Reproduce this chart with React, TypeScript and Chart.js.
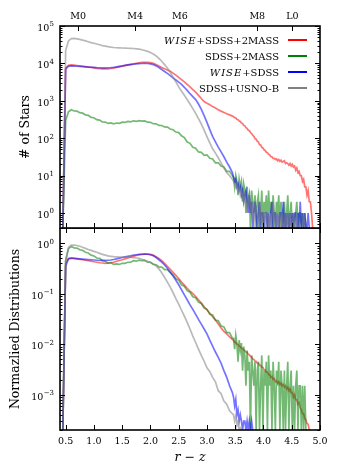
import React, { useEffect, useRef } from 'react';
import { Chart, registerables } from 'chart.js';

Chart.register(...registerables);

const FONT = "'DejaVu Serif', serif";

// r - z bin centres
const RZ_MAIN = [
  0.45, 0.5, 0.55, 0.6, 0.65, 0.7, 0.75, 0.8, 0.85, 0.9,
  0.95, 1.0, 1.05, 1.1, 1.15, 1.2, 1.25, 1.3, 1.35, 1.4,
  1.45, 1.5, 1.55, 1.6, 1.65, 1.7, 1.75, 1.8, 1.85, 1.9,
  1.95, 2.0, 2.05, 2.1, 2.15, 2.2, 2.25, 2.3, 2.35, 2.4,
  2.45, 2.5, 2.55, 2.6, 2.65, 2.7, 2.75, 2.8, 2.85, 2.9,
  2.95, 3.0, 3.05, 3.1, 3.15, 3.2, 3.25, 3.3, 3.35, 3.4,
  3.45,
];
const RZ_TAIL = [
  3.47, 3.49, 3.51, 3.53, 3.55, 3.57, 3.59, 3.61, 3.63, 3.65,
  3.67, 3.69, 3.71, 3.73, 3.75, 3.77, 3.79, 3.81, 3.83, 3.85,
  3.87, 3.89, 3.91, 3.93, 3.95, 3.97, 3.99, 4.01, 4.03, 4.05,
  4.07, 4.09, 4.11, 4.13, 4.15, 4.17, 4.19, 4.21, 4.23, 4.25,
  4.27, 4.29, 4.31, 4.33, 4.35, 4.37, 4.39, 4.41, 4.43, 4.45,
  4.47, 4.49, 4.51, 4.53, 4.55, 4.57, 4.59, 4.61, 4.63, 4.65,
  4.67, 4.69, 4.71, 4.73, 4.75, 4.77, 4.79, 4.81, 4.83, 4.85,
  4.87, 4.89,
];

const X_TICKS = [0.5, 1.0, 1.5, 2.0, 2.5, 3.0, 3.5, 4.0, 4.5, 5.0];
const SPECTRAL_TYPES = ['M0', 'M4', 'M6', 'M8', 'L0'];
const SPECTRAL_RZ = [0.72, 1.73, 2.52, 3.89, 4.51];
const TOP_DECADES = [0, 1, 2, 3, 4, 5];
const BOTTOM_DECADES = [-3, -2, -1, 0];

const SERIES = ['WISE+SDSS+2MASS', 'SDSS+2MASS', 'WISE+SDSS', 'SDSS+USNO-B'];
const LINE_COLORS = ['rgba(255,0,0,0.55)', 'rgba(0,128,0,0.55)', 'rgba(0,0,255,0.55)', 'rgba(128,128,128,0.55)'];
const LEGEND_COLORS = ['#ff0000', '#008000', '#0000ff', '#808080'];

// ---------- top panel: number of stars ----------
const RED_COUNTS_MAIN = [
  0, 7500, 8900, 9100, 9000, 8800, 8600, 8400, 8200, 8000,
  7800, 7600, 7400, 7250, 7150, 7100, 7150, 7300, 7500, 7800,
  8100, 8400, 8750, 9100, 9450, 9800, 10100, 10400, 10600, 10700,
  10700, 10500, 10000, 9300, 8500, 7800, 7200, 6700, 6200, 5500,
  4850, 4250, 3700, 3200, 2750, 2350, 2000, 1700, 1400, 1150,
  960, 860, 780, 700, 640, 580, 530, 490, 450, 420,
  390,
];
const RED_COUNTS_TAIL = [
  375, 355, 350, 322, 312, 290, 282, 255, 246, 222,
  214, 192, 184, 163, 160, 142, 133, 120, 112, 98,
  94, 83, 80, 68, 66, 57, 55, 49, 47, 42,
  41, 37, 36, 32, 32, 29, 29, 27, 28, 25,
  27, 24, 26, 23, 24, 25, 21, 22, 21, 19,
  21, 18, 20, 17, 18, 14, 16, 12, 13, 10,
  10, 7, 8, 5, 5, 3, 4, 2, 2, 1,
  0, 0,
];
const GREEN_COUNTS_MAIN = [
  0, 300, 510, 575, 535, 528, 482, 468, 422, 408,
  362, 352, 314, 306, 274, 270, 249, 256, 242, 255,
  250, 268, 264, 281, 274, 292, 284, 296, 286, 290,
  268, 266, 244, 242, 220, 219, 200, 198, 176, 168,
  146, 141, 116, 104, 79, 73, 57, 54, 43, 42,
  35, 36, 29, 28, 22, 22, 18, 17, 13, 13,
  10,
];
const GREEN_COUNTS_TAIL = [
  9, 5, 10, 7, 3, 8, 5, 7, 2, 6,
  4, 1, 5, 2, 3, 0, 4, 2, 1, 3,
  0, 2, 3, 0, 1, 4, 0, 2, 1, 3,
  0, 4, 1, 2, 0, 3, 1, 0, 2, 1,
  3, 0, 2, 1, 0, 2, 0, 1, 3, 0,
  1, 2, 0, 1, 0, 1, 2, 0, 1, 1,
  0, 1, 0, 1, 0,
];
const BLUE_COUNTS_MAIN = [
  0, 7000, 8400, 8600, 8500, 8400, 8300, 8200, 8100, 8000,
  7900, 7800, 7700, 7650, 7600, 7600, 7650, 7750, 7900, 8100,
  8350, 8600, 8850, 9100, 9300, 9500, 9700, 9850, 9950, 10000,
  9950, 9750, 9300, 8600, 7800, 6900, 6100, 5400, 4700, 4100,
  3600, 3150, 2750, 2300, 1900, 1550, 1300, 1080, 820, 590,
  400, 265, 170, 112, 80, 58, 43, 32, 23, 17,
  12,
];
const BLUE_COUNTS_TAIL = [
  9, 7, 8, 5, 6, 4, 5, 3, 4, 2,
  3, 4, 2, 1, 3, 1, 2, 0, 1, 2,
  1, 0, 1, 2, 0, 1, 1, 0, 1, 1,
  0, 1, 0, 1, 2, 0, 1, 1, 0, 1,
  0, 1, 1, 0, 2, 0, 1, 0, 1, 0,
  1, 0, 1, 0, 1, 1, 0, 1, 0, 2,
  0, 1, 0, 1, 0, 0, 1, 0,
];
const GRAY_COUNTS_MAIN = [
  0, 22000, 40000, 46000, 46500, 45500, 44000, 42000, 40000, 38000,
  36000, 34500, 33000, 31500, 30000, 29000, 28000, 27200, 26600, 26200,
  26000, 25800, 25600, 25400, 25200, 25000, 24600, 24000, 23200, 22200,
  21000, 19500, 17800, 15800, 13600, 11400, 9300, 7500, 5800, 4300,
  3200, 2350, 1800, 1400, 1080, 820, 620, 460, 335, 240,
  165, 110, 75, 52, 40, 30, 22, 16, 12, 10,
  8,
];
const GRAY_COUNTS_TAIL = [
  7, 6, 5, 6, 4, 5, 3, 4, 3, 2,
  3, 2, 1, 2, 3, 1, 2, 1, 0, 2,
  1, 1, 0, 2, 1, 0, 1, 1, 0, 1,
  1, 0, 1, 0, 1, 2, 0, 1, 0, 1,
  0, 1, 0, 1, 0, 0, 1, 0, 1, 0,
  1, 0, 0, 1, 0, 0, 1, 0, 0, 0,
  0, 0, 1, 0,
];

// ---------- bottom panel: normalized distributions ----------
const RED_NORM_MAIN = [
  0, 0.40, 0.50, 0.51, 0.50, 0.49, 0.48, 0.47, 0.46, 0.45,
  0.44, 0.43, 0.42, 0.41, 0.405, 0.40, 0.405, 0.41, 0.42, 0.44,
  0.455, 0.47, 0.49, 0.51, 0.53, 0.55, 0.57, 0.59, 0.60, 0.61,
  0.61, 0.60, 0.58, 0.54, 0.50, 0.45, 0.40, 0.35, 0.305, 0.265,
  0.23, 0.20, 0.17, 0.148, 0.128, 0.112, 0.10, 0.088, 0.076, 0.065,
  0.055, 0.048, 0.041, 0.035, 0.030, 0.025, 0.021, 0.018, 0.016, 0.014,
  0.0125,
];
const RED_NORM_TAIL = [
  0.0118, 0.0110, 0.0109, 0.0100, 0.0099, 0.0091, 0.0090, 0.0083, 0.0082, 0.0076,
  0.0075, 0.0070, 0.0069, 0.0063, 0.0062, 0.0057, 0.0056, 0.0051, 0.0050, 0.0046,
  0.0046, 0.0042, 0.0042, 0.0038, 0.0038, 0.0035, 0.0035, 0.0031, 0.0031, 0.0028,
  0.0028, 0.0025, 0.0025, 0.0022, 0.0023, 0.0020, 0.0021, 0.0018, 0.0019, 0.0017,
  0.0018, 0.0016, 0.0017, 0.0015, 0.0016, 0.0014, 0.0015, 0.0013, 0.0014, 0.0012,
  0.0013, 0.0011, 0.0011, 0.0009, 0.0010, 0.0008, 0.0008, 0.00065, 0.0007, 0.00055,
  0.0005, 0.00042, 0.00042, 0.00034, 0.00032, 0.00027, 0.00026, 0.0002, 0.00015, 0,
];
const GREEN_NORM_MAIN = [
  0, 0.45, 0.78, 0.86, 0.81, 0.80, 0.74, 0.72, 0.66, 0.64,
  0.58, 0.56, 0.51, 0.50, 0.45, 0.44, 0.40, 0.41, 0.38, 0.39,
  0.38, 0.40, 0.40, 0.42, 0.42, 0.45, 0.44, 0.46, 0.45, 0.455,
  0.42, 0.42, 0.38, 0.375, 0.34, 0.335, 0.30, 0.30, 0.26, 0.235,
  0.20, 0.185, 0.15, 0.14, 0.115, 0.107, 0.087, 0.083, 0.068, 0.064,
  0.052, 0.049, 0.039, 0.038, 0.030, 0.029, 0.023, 0.022, 0.017, 0.017,
  0.013,
];
const GREEN_NORM_TAIL = [
  0.013, 0.008, 0.015, 0.010, 0.0045, 0.012, 0.0075, 0.0105, 0.003, 0.009,
  0.006, 0.0015, 0.0075, 0.003, 0.0045, 0, 0.006, 0.003, 0.0015, 0.0045,
  0, 0.003, 0.0045, 0, 0.0015, 0.006, 0, 0.003, 0.0015, 0.0045,
  0, 0.006, 0.0015, 0.003, 0, 0.0045, 0.0015, 0, 0.003, 0.0015,
  0.0045, 0, 0.003, 0.0015, 0, 0.003, 0, 0.0015, 0.0045, 0,
  0.0015, 0.003, 0, 0.0015, 0, 0.0015, 0.003, 0, 0.0015, 0.0015,
  0, 0.0015, 0, 0.0015, 0,
];
const BLUE_NORM_MAIN = [
  0, 0.35, 0.49, 0.50, 0.50, 0.495, 0.49, 0.485, 0.48, 0.475,
  0.47, 0.465, 0.46, 0.455, 0.455, 0.455, 0.46, 0.465, 0.475, 0.49,
  0.505, 0.52, 0.535, 0.55, 0.565, 0.58, 0.59, 0.60, 0.605, 0.61,
  0.605, 0.59, 0.565, 0.52, 0.47, 0.42, 0.37, 0.32, 0.27, 0.225,
  0.185, 0.15, 0.12, 0.095, 0.076, 0.06, 0.049, 0.039, 0.031, 0.025,
  0.02, 0.016, 0.012, 0.0092, 0.007, 0.0055, 0.0042, 0.003, 0.0022, 0.0015,
  0.0011,
];
const BLUE_NORM_TAIL = [
  0.0009, 0.0006, 0.0008, 0.0004, 0.0005, 0.0003, 0.0004, 0.0003, 0, 0.0003,
  0.0003, 0, 0.0003, 0, 0.0003, 0, 0.0003, 0,
];
const GRAY_NORM_MAIN = [
  0, 0.45, 0.82, 0.92, 0.92, 0.90, 0.87, 0.83, 0.79, 0.75,
  0.72, 0.69, 0.66, 0.63, 0.60, 0.58, 0.56, 0.55, 0.54, 0.535,
  0.53, 0.53, 0.53, 0.53, 0.53, 0.52, 0.51, 0.50, 0.48, 0.46,
  0.44, 0.42, 0.39, 0.355, 0.31, 0.26, 0.21, 0.17, 0.135, 0.105,
  0.08, 0.062, 0.047, 0.036, 0.027, 0.020, 0.0145, 0.0108, 0.008, 0.006,
  0.0046, 0.0034, 0.0029, 0.0022, 0.0018, 0.0012, 0.00105, 0.00075, 0.00065, 0.00048,
  0.00042,
];
const GRAY_NORM_TAIL = [0.0004, 0.0003, 0.00038, 0.00025, 0.0003, 0, 0.00022, 0];

type Pt = { x: number; y: number };
function toPoints(main: number[], tail: number[]): Pt[] {
  const a = main.map((y, i) => ({ x: RZ_MAIN[i], y }));
  const b = tail.map((y, i) => ({ x: RZ_TAIL[i], y }));
  return a.concat(b);
}

const TOP_SERIES = [
  toPoints(RED_COUNTS_MAIN, RED_COUNTS_TAIL),
  toPoints(GREEN_COUNTS_MAIN, GREEN_COUNTS_TAIL),
  toPoints(BLUE_COUNTS_MAIN, BLUE_COUNTS_TAIL),
  toPoints(GRAY_COUNTS_MAIN, GRAY_COUNTS_TAIL),
];
const BOTTOM_SERIES = [
  toPoints(RED_NORM_MAIN, RED_NORM_TAIL),
  toPoints(GREEN_NORM_MAIN, GREEN_NORM_TAIL),
  toPoints(BLUE_NORM_MAIN, BLUE_NORM_TAIL),
  toPoints(GRAY_NORM_MAIN, GRAY_NORM_TAIL),
];

function framePlugin(isTop: boolean) {
  return {
    id: 'frameTicks' + (isTop ? 'Top' : 'Bottom'),
    afterDraw(chart: any) {
      const ctx = chart.ctx as CanvasRenderingContext2D;
      const { left, right, top, bottom } = chart.chartArea;
      const xs = chart.scales.x;
      const ys = chart.scales.y;
      const seg = (x1: number, y1: number, x2: number, y2: number) => {
        ctx.beginPath();
        ctx.moveTo(x1, y1);
        ctx.lineTo(x2, y2);
        ctx.stroke();
      };
      ctx.save();
      ctx.strokeStyle = '#000';
      ctx.lineWidth = 1;
      for (const v of X_TICKS) {
        const px = Math.round(xs.getPixelForValue(v)) + 0.5;
        seg(px, bottom, px, bottom - 5);
        if (!isTop) seg(px, top, px, top + 5);
      }
      if (isTop) {
        for (const v of SPECTRAL_RZ) {
          const px = Math.round(xs.getPixelForValue(v)) + 0.5;
          seg(px, top, px, top + 5);
        }
      }
      const dMin = Math.floor(Math.log10(ys.min));
      const dMax = Math.ceil(Math.log10(ys.max));
      for (let d = dMin; d <= dMax; d++) {
        for (let k = 1; k < 10; k++) {
          const v = k * Math.pow(10, d);
          if (v < ys.min * 0.9999 || v > ys.max * 1.0001) continue;
          const py = Math.round(ys.getPixelForValue(v)) + 0.5;
          const len = k === 1 ? 5 : 2.5;
          seg(left, py, left + len, py);
          seg(right, py, right - len, py);
        }
      }
      ctx.lineWidth = 1.6;
      ctx.strokeRect(left, top, right - left, bottom - top);

      // y tick labels 10^n
      ctx.fillStyle = '#000';
      ctx.textBaseline = 'alphabetic';
      ctx.textAlign = 'right';
      const decades = isTop ? TOP_DECADES : BOTTOM_DECADES;
      for (const d of decades) {
        const py = ys.getPixelForValue(Math.pow(10, d));
        const exp = d < 0 ? '\u2212' + String(-d) : String(d);
        ctx.font = `7px ${FONT}`;
        const we = ctx.measureText(exp).width;
        ctx.fillText(exp, 54, py + 0.3);
        ctx.font = `9.5px ${FONT}`;
        ctx.fillText('10', 54 - we - 0.3, py + 4.8);
      }

      if (isTop) {
        SERIES.forEach((label, i) => {
          const y = 40 + 16 * i;
          let italic = '';
          let rest = label;
          if (label.startsWith('WISE')) {
            italic = 'WISE';
            rest = label.slice(4);
          }
          ctx.textAlign = 'left';
          ctx.font = `10px ${FONT}`;
          const wr = ctx.measureText(rest).width;
          ctx.font = `italic 10px ${FONT}`;
          (ctx as any).letterSpacing = '1px';
          const wi = italic ? ctx.measureText(italic).width : 0;
          const x0 = 279 - wr - wi;
          if (italic) ctx.fillText(italic, x0, y + 3.6);
          (ctx as any).letterSpacing = '0px';
          ctx.font = `10px ${FONT}`;
          ctx.fillText(rest, x0 + wi, y + 3.6);
          ctx.strokeStyle = LEGEND_COLORS[i];
          ctx.lineWidth = 2;
          seg(288, y, 307, y);
        });
      }
      ctx.restore();
    },
  };
}

function makeDatasets(series: Pt[][]) {
  return SERIES.map((label, i) => ({
    label,
    data: series[i],
    borderColor: LINE_COLORS[i],
    backgroundColor: LINE_COLORS[i],
    borderWidth: 1.7,
    pointRadius: 0,
    tension: 0,
    fill: false,
    order: 4 - i,
  }));
}

const noGrid = { display: false, drawTicks: false };

function topConfig(): any {
  return {
    type: 'line',
    data: { datasets: makeDatasets(TOP_SERIES) },
    plugins: [framePlugin(true)],
    options: {
      animation: false,
      responsive: false,
      devicePixelRatio: 1,
      parsing: false,
      events: [],
      layout: { padding: { left: 0, right: 18, top: 0, bottom: 1 } },
      plugins: { legend: { display: false }, tooltip: { enabled: false } },
      scales: {
        x: { type: 'linear', position: 'bottom', min: 0.4, max: 5.0, display: false },
        xTop: {
          type: 'linear', position: 'top', min: 0.4, max: 5.0,
          grid: noGrid, border: { display: false },
          afterBuildTicks: (s: any) => { s.ticks = SPECTRAL_RZ.map((v) => ({ value: v })); },
          afterFit: (s: any) => { s.height = 26; },
          ticks: {
            autoSkip: false, maxRotation: 0, padding: 3.5, color: '#000',
            font: { size: 9.5, family: FONT },
            callback: (_v: any, i: number) => SPECTRAL_TYPES[i],
          },
        },
        y: {
          type: 'logarithmic', position: 'left', min: 0.398, max: 1e5,
          grid: noGrid, border: { display: false },
          ticks: { display: false },
          afterFit: (s: any) => { s.width = 60; },
          title: {
            display: true, text: '# of Stars', color: '#000',
            font: { size: 12.5, family: FONT },
            padding: { top: 18, bottom: 0 },
          },
        },
      },
    },
  };
}

function bottomConfig(): any {
  return {
    type: 'line',
    data: { datasets: makeDatasets(BOTTOM_SERIES) },
    plugins: [framePlugin(false)],
    options: {
      animation: false,
      responsive: false,
      devicePixelRatio: 1,
      parsing: false,
      events: [],
      layout: { padding: { left: 0, right: 18, top: 0, bottom: 0 } },
      plugins: { legend: { display: false }, tooltip: { enabled: false } },
      scales: {
        x: {
          type: 'linear', position: 'bottom', min: 0.4, max: 5.0,
          grid: noGrid, border: { display: false },
          afterBuildTicks: (s: any) => { s.ticks = X_TICKS.map((v) => ({ value: v })); },
          afterFit: (s: any) => { s.height = 46; },
          ticks: {
            autoSkip: false, maxRotation: 0, padding: 6, color: '#000',
            font: { size: 9.5, family: FONT },
            callback: (v: any) => Number(v).toFixed(1),
          },
          title: {
            display: true, text: 'r \u2212 z', color: '#000',
            font: { size: 12.5, family: FONT, style: 'italic' },
            padding: { top: 0, bottom: 10.5 },
          },
        },
        y: {
          type: 'logarithmic', position: 'left', min: 2e-4, max: 2,
          grid: noGrid, border: { display: false },
          ticks: { display: false },
          afterFit: (s: any) => { s.width = 60; },
          title: {
            display: true, text: 'Normazlied Distributions', color: '#000',
            font: { size: 12.5, family: FONT },
            padding: { top: 8.5, bottom: 0 },
          },
        },
      },
    },
  };
}

export default function App() {
  const topRef = useRef<HTMLCanvasElement>(null);
  const botRef = useRef<HTMLCanvasElement>(null);
  useEffect(() => {
    Chart.defaults.font.family = FONT;
    Chart.defaults.color = '#000';
    const c1 = new Chart(topRef.current as HTMLCanvasElement, topConfig());
    const c2 = new Chart(botRef.current as HTMLCanvasElement, bottomConfig());
    return () => {
      c1.destroy();
      c2.destroy();
    };
  }, []);
  return (
    <div style={{ position: 'absolute', left: 0, top: 0, width: 338, height: 476, background: '#fff' }}>
      <canvas
        ref={topRef}
        width={338}
        height={229}
        style={{ position: 'absolute', left: 0, top: 0, width: 338, height: 229 }}
      />
      <canvas
        ref={botRef}
        width={338}
        height={248}
        style={{ position: 'absolute', left: 0, top: 228, width: 338, height: 248 }}
      />
    </div>
  );
}
